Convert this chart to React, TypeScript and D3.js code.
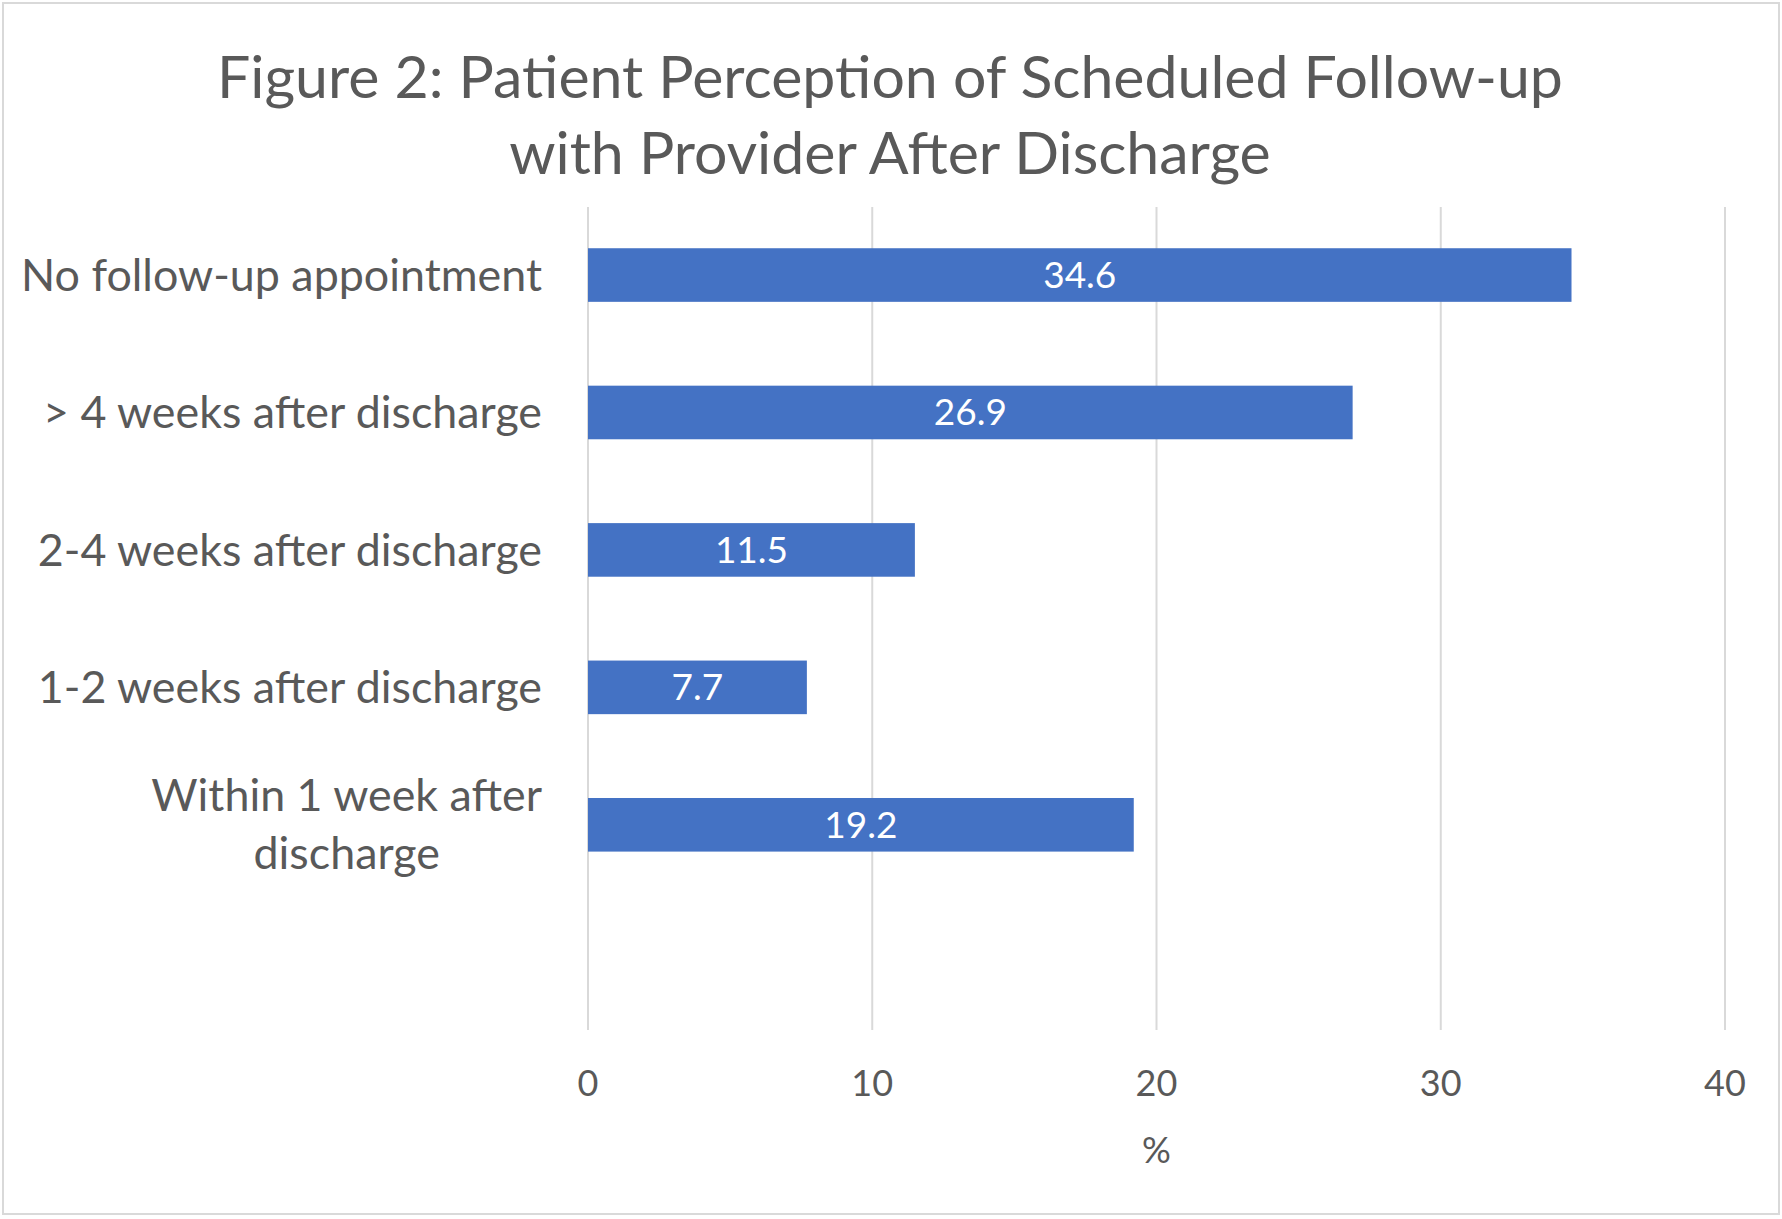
import React, { useEffect, useRef } from 'react';
import * as d3 from 'd3';

const categories: string[] = [
  'No follow-up appointment',
  '> 4 weeks after discharge',
  '2-4 weeks after discharge',
  '1-2 weeks after discharge',
  'Within 1 week after discharge',
];
const values: number[] = [34.6, 26.9, 11.5, 7.7, 19.2];
const xTicks: number[] = [0, 10, 20, 30, 40];
const titleLines: string[] = ['Figure 2: Patient Perception of Scheduled Follow-up', 'with Provider After Discharge'];
// wrapped label lines for the last category
const wrappedLabels: Record<string, string[]> = {
  'Within 1 week after discharge': ['Within 1 week after', 'discharge'],
};

const W = 1782;
const H = 1219;
const FONT = 'Lato, "Noto Sans", sans-serif';
const TEXT = '#595959';

const App: React.FC = () => {
  const ref = useRef<SVGSVGElement>(null);

  useEffect(() => {
    document.body.style.margin = '0';
    const svg = d3.select(ref.current);
    svg.selectAll('*').remove();

    const left = 588;
    const right = 1725;
    const top = 207;
    const bottom = 1030;
    // Excel leaves one empty slot below the last bar
    const step = (bottom - top) / (categories.length + 1);

    const x = d3.scaleLinear().domain([0, 40]).range([left, right]);
    const y = d3
      .scaleBand<string>()
      .domain(categories)
      .range([top, top + step * categories.length])
      .paddingInner(0.61)
      .paddingOuter(0.3);

    svg.append('rect')
      .attr('x', 3).attr('y', 3)
      .attr('width', W - 6).attr('height', H - 8)
      .attr('fill', '#fff')
      .attr('stroke', '#d9d9d9')
      .attr('stroke-width', 2);

    svg.append('g')
      .selectAll('text')
      .data(titleLines)
      .join('text')
      .attr('x', 890)
      .attr('y', (_, i) => 98 + i * 76)
      .attr('text-anchor', 'middle')
      .attr('font-family', FONT)
      .attr('font-size', 59)
      .attr('fill', TEXT)
      .text((d) => d);

    svg.append('g')
      .selectAll('line')
      .data(xTicks)
      .join('line')
      .attr('x1', (d) => x(d)).attr('x2', (d) => x(d))
      .attr('y1', top).attr('y2', bottom)
      .attr('stroke', '#d9d9d9')
      .attr('stroke-width', 2);

    svg.append('g')
      .selectAll('text')
      .data(xTicks)
      .join('text')
      .attr('x', (d) => x(d))
      .attr('y', 1083)
      .attr('dy', '0.35em')
      .attr('text-anchor', 'middle')
      .attr('font-family', FONT)
      .attr('font-size', 36)
      .attr('fill', TEXT)
      .text((d) => d);

    svg.append('text')
      .attr('x', x(20))
      .attr('y', 1150)
      .attr('dy', '0.35em')
      .attr('text-anchor', 'middle')
      .attr('font-family', FONT)
      .attr('font-size', 36)
      .attr('fill', TEXT)
      .text('%');

    svg.append('g')
      .selectAll('rect')
      .data(categories)
      .join('rect')
      .attr('x', x(0))
      .attr('y', (d) => y(d) ?? 0)
      .attr('width', (_, i) => x(values[i]) - x(0))
      .attr('height', y.bandwidth())
      .attr('fill', '#4472c4');

    svg.append('g')
      .selectAll('text')
      .data(categories)
      .join('text')
      .attr('x', (_, i) => (x(0) + x(values[i])) / 2)
      .attr('y', (d) => (y(d) ?? 0) + y.bandwidth() / 2)
      .attr('dy', '0.35em')
      .attr('text-anchor', 'middle')
      .attr('font-family', FONT)
      .attr('font-size', 37)
      .attr('fill', '#fff')
      .text((_, i) => values[i].toFixed(1));

    const labelRight = 542;
    const lineH = 58;
    const labelSize = 44.8;
    const labels = svg.append('g');
    categories.forEach((c) => {
      const cy = (y(c) ?? 0) + y.bandwidth() / 2;
      const lines = wrappedLabels[c] ?? [c];
      if (lines.length === 1) {
        labels.append('text')
          .attr('x', labelRight)
          .attr('y', cy)
          .attr('dy', '0.35em')
          .attr('text-anchor', 'end')
          .attr('font-family', FONT)
          .attr('font-size', labelSize)
          .attr('fill', TEXT)
          .text(c);
        return;
      }
      const texts = lines.map((l, i) =>
        labels.append('text')
          .attr('y', cy + (i - (lines.length - 1) / 2) * lineH)
          .attr('dy', '0.35em')
          .attr('text-anchor', 'middle')
          .attr('font-family', FONT)
          .attr('font-size', labelSize)
          .attr('fill', TEXT)
          .text(l)
      );
      const widest = d3.max(texts, (t) => (t.node() as SVGTextElement).getComputedTextLength()) ?? 0;
      texts.forEach((t) => t.attr('x', labelRight - widest / 2));
    });
  }, []);

  return <svg ref={ref} width={W} height={H} style={{ display: 'block' }} />;
};

export default App;
